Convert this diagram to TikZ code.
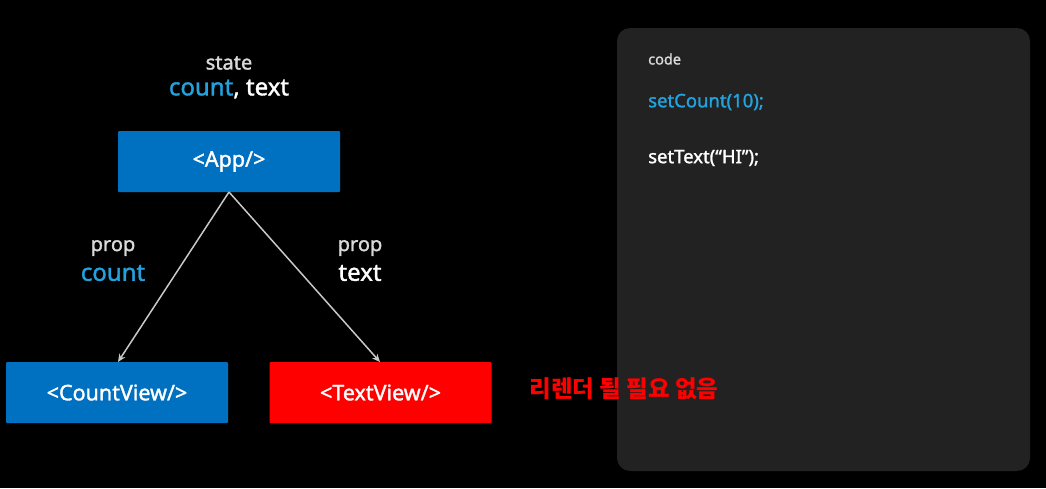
\documentclass[tikz,border=0pt]{standalone}
\usepackage{fontspec}
\setmainfont{Noto Sans}[RawFeature={embolden=1.5}]
\newfontfamily\kr{Noto Sans CJK KR}
\definecolor{boxblue}{HTML}{0070C0}
\definecolor{boxred}{HTML}{FF0000}
\definecolor{lblue}{HTML}{22A3DD}
\definecolor{panel}{HTML}{222222}
\definecolor{soft}{HTML}{D9D9D9}
\definecolor{arrowgray}{HTML}{C8C8C8}
\begin{document}
\begin{tikzpicture}[x=1pt,y=-1pt,
  comp/.style={minimum width=222pt,minimum height=61pt,inner sep=0pt,text=white,font=\fontsize{21.5}{25}\selectfont,rounded corners=1pt},
  lbl/.style={inner sep=0pt,font=\fontsize{20}{24}\selectfont,text=soft},
  big/.style={inner sep=0pt,font=\fontsize{24}{28}\selectfont},
  codetxt/.style={inner sep=0pt,anchor=west,font=\fontsize{18.5}{22}\selectfont},
  link/.style={draw=arrowgray,line width=1.5pt,-{Stealth[length=8pt,width=7pt]}}]
\usetikzlibrary{arrows.meta}
\fill[black] (0,0) rectangle (1046,488);
\fill[panel,rounded corners=13pt] (617,28) rectangle (1030,471);
\node[comp,fill=boxblue] (app) at (229,161.5) {<App/>};
\node[comp,fill=boxblue] (cv) at (117,392.5) {<CountView/>};
\node[comp,fill=boxred] (tv) at (380.5,392.5) {<TextView/>};
\node[lbl] (state) at (229,63) {state};
\node[big,text=white] (stvals) at (229,89) {\textcolor{lblue}{count}, text};
\node[lbl] (p1) at (113,248) {prop};
\node[big,text=lblue] (p1v) at (113,273) {count};
\node[lbl] (p2) at (360,248) {prop};
\node[big,text=white] (p2v) at (360,273) {text};
\coordinate (src) at (229,192);
\coordinate (t1) at (118,362);
\coordinate (t2) at (380,362);
\draw[link] (src) -- (t1);
\draw[link] (src) -- (t2);
\node[inner sep=0pt,text=boxred,font=\kr\bfseries\fontsize{23.5}{27}\selectfont] (note) at (624,389) {리렌더 될 필요 없음};
\node[codetxt,font=\fontsize{14.5}{17}\selectfont,text=soft] (code) at (648,59) {code};
\node[codetxt,text=lblue] (c1) at (648,102) {setCount(10);};
\node[codetxt,text=white] (c2) at (648,158) {setText(“HI”);};
\end{tikzpicture}
\end{document}
